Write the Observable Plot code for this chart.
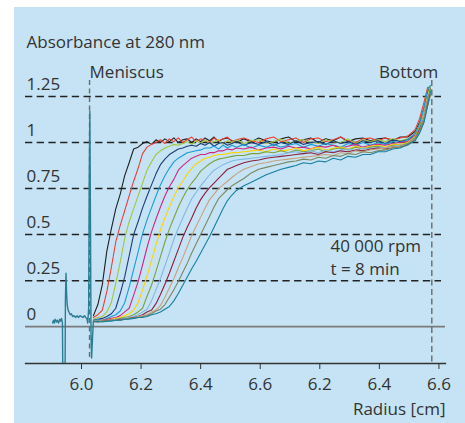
<!DOCTYPE html>
<html><head><meta charset="utf-8">
<script src="https://cdn.jsdelivr.net/npm/d3@7"></script>
<script src="https://cdn.jsdelivr.net/npm/@observablehq/plot@0.6"></script>
<style>
body{margin:0;background:#fff;}
#wrap{position:relative;width:465px;height:423px;overflow:hidden;}
#panel{position:absolute;left:14px;top:7px;width:451px;height:416px;background:#c5e3f4;}
</style>
</head><body><div id="wrap"><div id="panel"></div></div>
<script>
// ---- data ----
const radius = [
  6.040,6.055,6.070,6.085,6.100,6.115,6.130,6.145,6.160,6.175,
  6.190,6.205,6.220,6.235,6.250,6.265,6.280,6.295,6.310,6.325,
  6.340,6.355,6.370,6.385,6.400,6.415,6.430,6.445,6.460,6.475,
  6.490,6.505,6.520,6.545,6.570,6.595,6.620,6.645,6.670,6.695,
  6.720,6.745,6.770,6.795,6.820,6.845,6.870,6.895,6.920,6.945,
  6.970,6.995,7.020,7.045,7.070,7.095,7.120,7.135,7.150,7.162,7.172];

const black = [
  0.06,0.12,0.23,0.41,0.53,0.64,0.72,0.82,0.89,0.965,
  0.975,0.995,1.005,0.99,1.015,1.0,1.02,1.005,1.025,1.0,
  1.015,1.02,1.0,1.02,1.005,1.025,1.01,1.03,1.005,1.02,
  1.025,1.01,1.0,1.02,1.005,1.025,1.01,1.0,1.02,1.03,
  1.005,1.015,1.025,1.0,1.02,1.01,1.03,1.005,1.02,1.025,
  1.01,1.02,1.025,1.01,1.03,1.03,1.06,1.11,1.19,1.27,1.31];
const red = [
  0.05,0.065,0.09,0.19,0.32,0.46,0.55,0.63,0.71,0.79,
  0.86,0.94,0.975,0.99,1.0,1.015,0.995,1.02,1.005,1.025,
  1.0,1.015,1.03,1.005,1.02,1.01,1.0,1.025,1.01,1.02,
  1.03,1.005,1.015,1.025,1.01,1.0,1.02,1.03,1.005,1.015,
  1.025,1.0,1.02,1.025,1.005,1.015,1.03,1.01,1.0,1.02,
  1.025,1.01,1.025,1.015,1.025,1.035,1.07,1.13,1.22,1.3,1.29];
const lightGreen = [
  0.04,0.05,0.055,0.08,0.13,0.235,0.35,0.48,0.57,0.64,
  0.71,0.78,0.85,0.895,0.935,0.955,0.97,0.98,0.99,0.985,
  0.995,1.005,0.99,1.01,0.995,1.015,0.995,1.005,1.015,0.99,
  1.01,1.0,1.015,0.995,1.01,1.015,0.995,1.005,1.02,0.995,
  1.01,1.015,1.0,0.995,1.015,1.005,1.0,1.02,0.995,1.015,
  1.005,1.015,1.005,1.02,1.01,1.02,1.05,1.1,1.18,1.26,1.31];
const navy = [
  0.035,0.04,0.045,0.055,0.07,0.10,0.18,0.27,0.385,0.50,
  0.57,0.645,0.71,0.77,0.83,0.88,0.91,0.935,0.95,0.965,
  0.97,0.98,0.985,0.98,0.995,0.985,1.0,0.98,0.995,1.0,
  0.985,0.995,1.005,0.985,1.0,0.99,1.005,0.985,1.0,0.99,
  1.01,0.99,1.0,1.005,0.99,1.01,0.995,1.005,0.99,1.01,
  1.0,1.01,0.995,1.015,1.005,1.015,1.04,1.08,1.15,1.22,1.29];
const blue = [
  0.03,0.04,0.035,0.045,0.055,0.065,0.085,0.13,0.215,0.31,
  0.405,0.505,0.58,0.645,0.71,0.77,0.82,0.86,0.895,0.915,
  0.93,0.945,0.95,0.955,0.96,0.97,0.97,0.98,0.965,0.985,
  0.97,0.985,0.975,0.99,0.97,0.985,0.975,0.99,0.975,0.985,
  0.995,0.975,0.99,0.98,0.995,0.985,0.975,0.995,0.985,1.0,
  0.985,1.0,0.99,1.005,1.0,1.015,1.05,1.1,1.19,1.29,1.31];
const magenta = [
  0.03,0.035,0.035,0.04,0.045,0.05,0.06,0.08,0.10,0.17,
  0.245,0.335,0.43,0.515,0.585,0.65,0.71,0.76,0.80,0.85,
  0.875,0.895,0.915,0.925,0.935,0.935,0.945,0.945,0.955,0.955,
  0.965,0.96,0.97,0.965,0.975,0.96,0.97,0.975,0.965,0.98,
  0.97,0.975,0.965,0.98,0.975,0.985,0.97,0.98,0.99,0.975,
  0.985,0.99,0.985,0.995,1.0,1.005,1.04,1.08,1.15,1.23,1.29];
const yellow = [
  0.03,0.03,0.035,0.035,0.04,0.045,0.05,0.06,0.07,0.09,
  0.13,0.20,0.275,0.36,0.445,0.525,0.59,0.65,0.705,0.755,
  0.79,0.83,0.86,0.885,0.90,0.915,0.92,0.93,0.935,0.935,
  0.94,0.945,0.945,0.95,0.955,0.96,0.95,0.965,0.955,0.96,
  0.97,0.955,0.965,0.975,0.96,0.97,0.975,0.965,0.98,0.97,
  0.98,0.985,0.975,0.99,0.99,1.0,1.035,1.08,1.15,1.22,1.28];
const oliveGreen = [
  0.03,0.03,0.03,0.035,0.035,0.04,0.045,0.05,0.055,0.065,
  0.08,0.10,0.165,0.225,0.30,0.38,0.46,0.53,0.59,0.65,
  0.70,0.745,0.78,0.81,0.845,0.865,0.885,0.90,0.91,0.915,
  0.92,0.925,0.93,0.93,0.94,0.94,0.95,0.945,0.955,0.945,
  0.96,0.95,0.955,0.965,0.95,0.965,0.97,0.96,0.975,0.965,
  0.975,0.98,0.97,0.985,0.985,0.995,1.03,1.08,1.14,1.22,1.29];
const lightBlue = [
  0.03,0.03,0.03,0.035,0.035,0.04,0.04,0.045,0.05,0.055,
  0.065,0.08,0.095,0.14,0.20,0.26,0.33,0.40,0.475,0.535,
  0.59,0.645,0.695,0.73,0.765,0.795,0.825,0.85,0.865,0.88,
  0.89,0.90,0.905,0.91,0.915,0.92,0.925,0.93,0.935,0.945,
  0.95,0.94,0.955,0.945,0.96,0.95,0.96,0.965,0.955,0.97,
  0.965,0.975,0.97,0.98,0.985,0.99,1.025,1.07,1.14,1.21,1.28];
const maroon = [
  0.03,0.025,0.03,0.035,0.035,0.035,0.04,0.04,0.045,0.05,
  0.055,0.065,0.08,0.09,0.125,0.175,0.23,0.29,0.355,0.42,
  0.485,0.54,0.59,0.645,0.69,0.725,0.755,0.78,0.805,0.83,
  0.855,0.865,0.875,0.89,0.90,0.905,0.915,0.92,0.925,0.93,
  0.935,0.94,0.945,0.935,0.95,0.945,0.955,0.95,0.96,0.955,
  0.965,0.97,0.965,0.975,0.98,0.99,1.02,1.07,1.13,1.21,1.27];
const tan = [
  0.025,0.03,0.03,0.03,0.035,0.035,0.035,0.04,0.045,0.045,
  0.055,0.06,0.065,0.08,0.09,0.115,0.16,0.21,0.26,0.32,
  0.375,0.435,0.495,0.545,0.595,0.645,0.69,0.72,0.75,0.77,
  0.79,0.81,0.83,0.855,0.87,0.885,0.89,0.90,0.905,0.91,
  0.915,0.92,0.925,0.93,0.935,0.93,0.945,0.94,0.955,0.95,
  0.96,0.965,0.97,0.975,0.98,0.99,1.02,1.06,1.13,1.2,1.27];
const olive = [
  0.03,0.025,0.03,0.03,0.035,0.035,0.035,0.04,0.045,0.045,
  0.05,0.055,0.06,0.07,0.085,0.095,0.12,0.16,0.20,0.245,
  0.295,0.345,0.40,0.45,0.50,0.55,0.60,0.65,0.695,0.72,
  0.745,0.765,0.78,0.805,0.835,0.855,0.865,0.875,0.885,0.895,
  0.90,0.91,0.905,0.92,0.915,0.93,0.925,0.94,0.935,0.95,
  0.945,0.955,0.96,0.97,0.975,0.985,1.015,1.06,1.12,1.2,1.26];
const teal = [
  0.025,0.03,0.025,0.03,0.03,0.035,0.035,0.04,0.04,0.045,
  0.05,0.05,0.055,0.065,0.07,0.08,0.095,0.11,0.14,0.18,
  0.225,0.27,0.315,0.355,0.40,0.445,0.49,0.54,0.59,0.64,
  0.685,0.715,0.74,0.765,0.785,0.805,0.825,0.84,0.855,0.865,
  0.875,0.89,0.885,0.90,0.895,0.915,0.905,0.925,0.92,0.935,
  0.935,0.95,0.95,0.965,0.97,0.99,1.01,1.05,1.11,1.2,1.28];

// shared trace left of and at the meniscus
const prefixRadius = [5.903,5.906,5.909,5.912,5.916,5.919,5.923,5.927,5.930,5.933,5.936,
  5.937,5.941,5.945,5.946,5.948,5.950,5.952,5.955,5.958,5.962,5.966,5.970,
  5.975,5.980,5.985,5.990,5.995,6.000,6.005,6.010,
  6.014,6.018,6.021,6.024,6.026,6.028,6.030,6.032,6.034,6.037,6.040];
const prefixAbs = [0.02,0.035,0.02,0.04,0.025,0.035,0.02,0.04,0.03,0.045,0.02,
  -0.2,-0.2,-0.2,0.15,0.29,0.18,0.12,0.09,0.08,0.065,0.07,0.055,
  0.06,0.05,0.06,0.05,0.06,0.055,0.05,0.06,
  0.05,0.045,0.02,0.1,0.8,1.17,0.6,-0.05,-0.17,-0.06,0.03];

const curves = [black, red, lightGreen, navy, blue, magenta, yellow, oliveGreen, lightBlue, maroon, tan, olive, teal];
const curveColors = ["#231f20","#ee3e32","#a2c73b","#1d3c78","#1b9ad6","#d02681","#ffd400","#7ba23f","#80b7e4","#8b1e3f","#c8a27c","#7a8760","#17809e"];

const xTicks = [6.0, 6.2, 6.4, 6.6, 6.8, 7.0, 7.2];
const xTickLabels = ["6.0","6.2","6.4","6.6","6.2","6.4","6.6"];
const yTicks = [0, 0.25, 0.5, 0.75, 1, 1.25];
const yTickLabels = ["0","0.25","0.5","0.75","1","1.25"];
const dashedLevels = [0.25, 0.5, 0.75, 1, 1.25];
const meniscusR = 6.027;
const bottomR = 7.176;
const title = "Absorbance at 280 nm";
const xTitle = "Radius [cm]";
const conditions = ["40 000 rpm", "t = 8 min"];

// ---- chart ----
const textColor = "#333";
const lineMarks = curves.map((vals, k) =>
  Plot.line(radius.map((r, i) => ({r, a: vals[i]})), {x: "r", y: "a", stroke: curveColors[k], strokeWidth: 1.1, clip: true})
);
const prefixData = prefixRadius.map((r, i) => ({r, a: prefixAbs[i]}));
const yLabelData = yTicks.map((v, i) => ({v, label: yTickLabels[i]}));

const chart = Plot.plot({
  width: 451, height: 416,
  marginLeft: 11, marginRight: 20, marginTop: 70.6, marginBottom: 60,
  x: {domain: [5.812, 7.222]},
  y: {domain: [-0.2, 1.35], axis: null},
  style: {background: "transparent", fontFamily: "'Open Sans', sans-serif", fontSize: "17px", color: textColor, overflow: "visible"},
  marks: [
    Plot.ruleY(dashedLevels, {stroke: "#222", strokeWidth: 1.5, strokeDasharray: "7.3,4.4", insetRight: 4}),
    Plot.ruleY([0], {stroke: "#7a7a7a", strokeWidth: 1.6}),
    Plot.ruleX([meniscusR], {stroke: "#6a6a6a", strokeWidth: 1.4, strokeDasharray: "5,3.5", insetTop: 2.4, insetBottom: 5}),
    Plot.ruleX([bottomR], {stroke: "#6a6a6a", strokeWidth: 1.4, strokeDasharray: "6,3.5", insetTop: 2.4}),
    Plot.frame({anchor: "bottom", stroke: "#333", strokeWidth: 1.3}),
    Plot.axisX({ticks: xTicks, tickFormat: d => xTickLabels[xTicks.indexOf(d)], tickSize: 6, tickPadding: 8, label: null, stroke: "#333"}),
    Plot.line(prefixData, {x: "r", y: "a", stroke: "#2b7d93", strokeWidth: 1.4, clip: true}),
    ...lineMarks,
    Plot.text(yLabelData, {y: "v", text: "label", frameAnchor: "left", textAnchor: "start", dx: 1, dy: -12, fill: textColor}),
    Plot.text([title], {text: d => d, frameAnchor: "top-left", textAnchor: "start", dx: 1, dy: -42.6, fill: textColor}),
    Plot.text([{r: meniscusR, label: "Meniscus"}], {x: "r", text: "label", frameAnchor: "top", textAnchor: "start", dy: -12.6, fill: textColor}),
    Plot.text([{r: bottomR, label: "Bottom"}], {x: "r", text: "label", frameAnchor: "top", textAnchor: "end", dx: 6.5, dy: -12.6, fill: textColor}),
    Plot.text([conditions.join("\n")], {text: d => d, frameAnchor: "top-left", textAnchor: "start", lineAnchor: "middle", lineHeight: 1.35, dx: 305, dy: 178, fill: textColor}),
    Plot.text([xTitle], {text: d => d, frameAnchor: "bottom-right", textAnchor: "end", dy: 51.5, fill: textColor})
  ]
});
chart.style.position = "absolute";
chart.style.left = "14px";
chart.style.top = "7px";
document.getElementById("wrap").appendChild(chart);
</script>
</body></html>
